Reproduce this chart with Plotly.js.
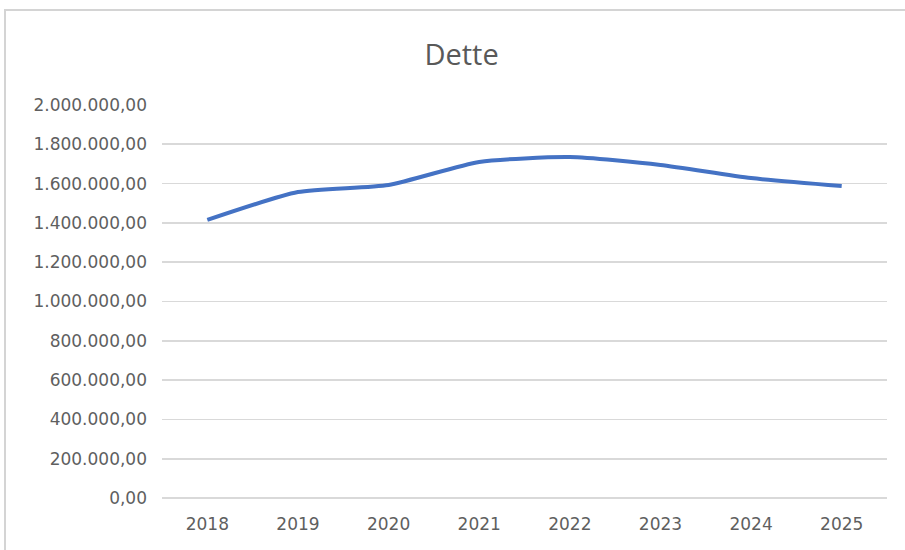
<!DOCTYPE html>
<html><head><meta charset="utf-8">
<script src="https://cdn.plot.ly/plotly-3.0.1.min.js"></script>
<style>
html,body{margin:0;padding:0;background:#fff;}
#wrap{position:absolute;left:0;top:0;width:905px;height:550px;overflow:hidden;}
#frame{position:absolute;left:4px;top:9px;width:905px;height:545px;border-top:2px solid #d4d4d4;border-left:2px solid #d4d4d4;box-sizing:border-box;}
#chart{position:absolute;left:0;top:0;width:905px;height:550px;}
</style></head>
<body>
<div id="wrap"><div id="chart"></div><div id="frame"></div></div>
<script>
const years = ['2018','2019','2020','2021','2022','2023','2024','2025'];
const dette = [1415000, 1557000, 1593000, 1710000, 1735000, 1695000, 1628000, 1588000];
const yTicks = [0,200000,400000,600000,800000,1000000,1200000,1400000,1600000,1800000,2000000];

const trace = {
  x: years, y: dette, type: 'scatter', mode: 'lines',
  line: {color: '#4472c4', width: 4, shape: 'spline', smoothing: 0.6},
  hoverinfo: 'skip'
};
const layout = {
  width: 905, height: 550,
  margin: {l: 162, r: 18, t: 105, b: 52},
  paper_bgcolor: '#ffffff', plot_bgcolor: '#ffffff',
  separators: ',.',
  showlegend: false,
  font: {family: 'DejaVu Sans, sans-serif', color: '#595959', size: 17},
  title: {text: 'Dette', x: 0.51, xanchor: 'center', y: 0.9, yanchor: 'middle',
          font: {family: 'Open Sans, sans-serif', size: 29, color: '#595959'}},
  xaxis: {
    type: 'category', range: [-0.5, 7.5], showgrid: false, zeroline: false,
    showline: false, ticks: '', ticklabelstandoff: 14,
    tickfont: {size: 17, color: '#5f5f5f'}
  },
  yaxis: {
    range: [0, 2000000], tickvals: yTicks, tickformat: ',.2f',
    showgrid: true, gridcolor: '#d9d9d9', gridwidth: 1.7,
    zeroline: true, zerolinecolor: '#d9d9d9', zerolinewidth: 1.7,
    showline: false, ticks: '', ticklabelstandoff: 14,
    tickfont: {size: 17, color: '#5f5f5f'}
  }
};
Plotly.newPlot('chart', [trace], layout, {displayModeBar: false, staticPlot: true});
</script>
</body></html>
